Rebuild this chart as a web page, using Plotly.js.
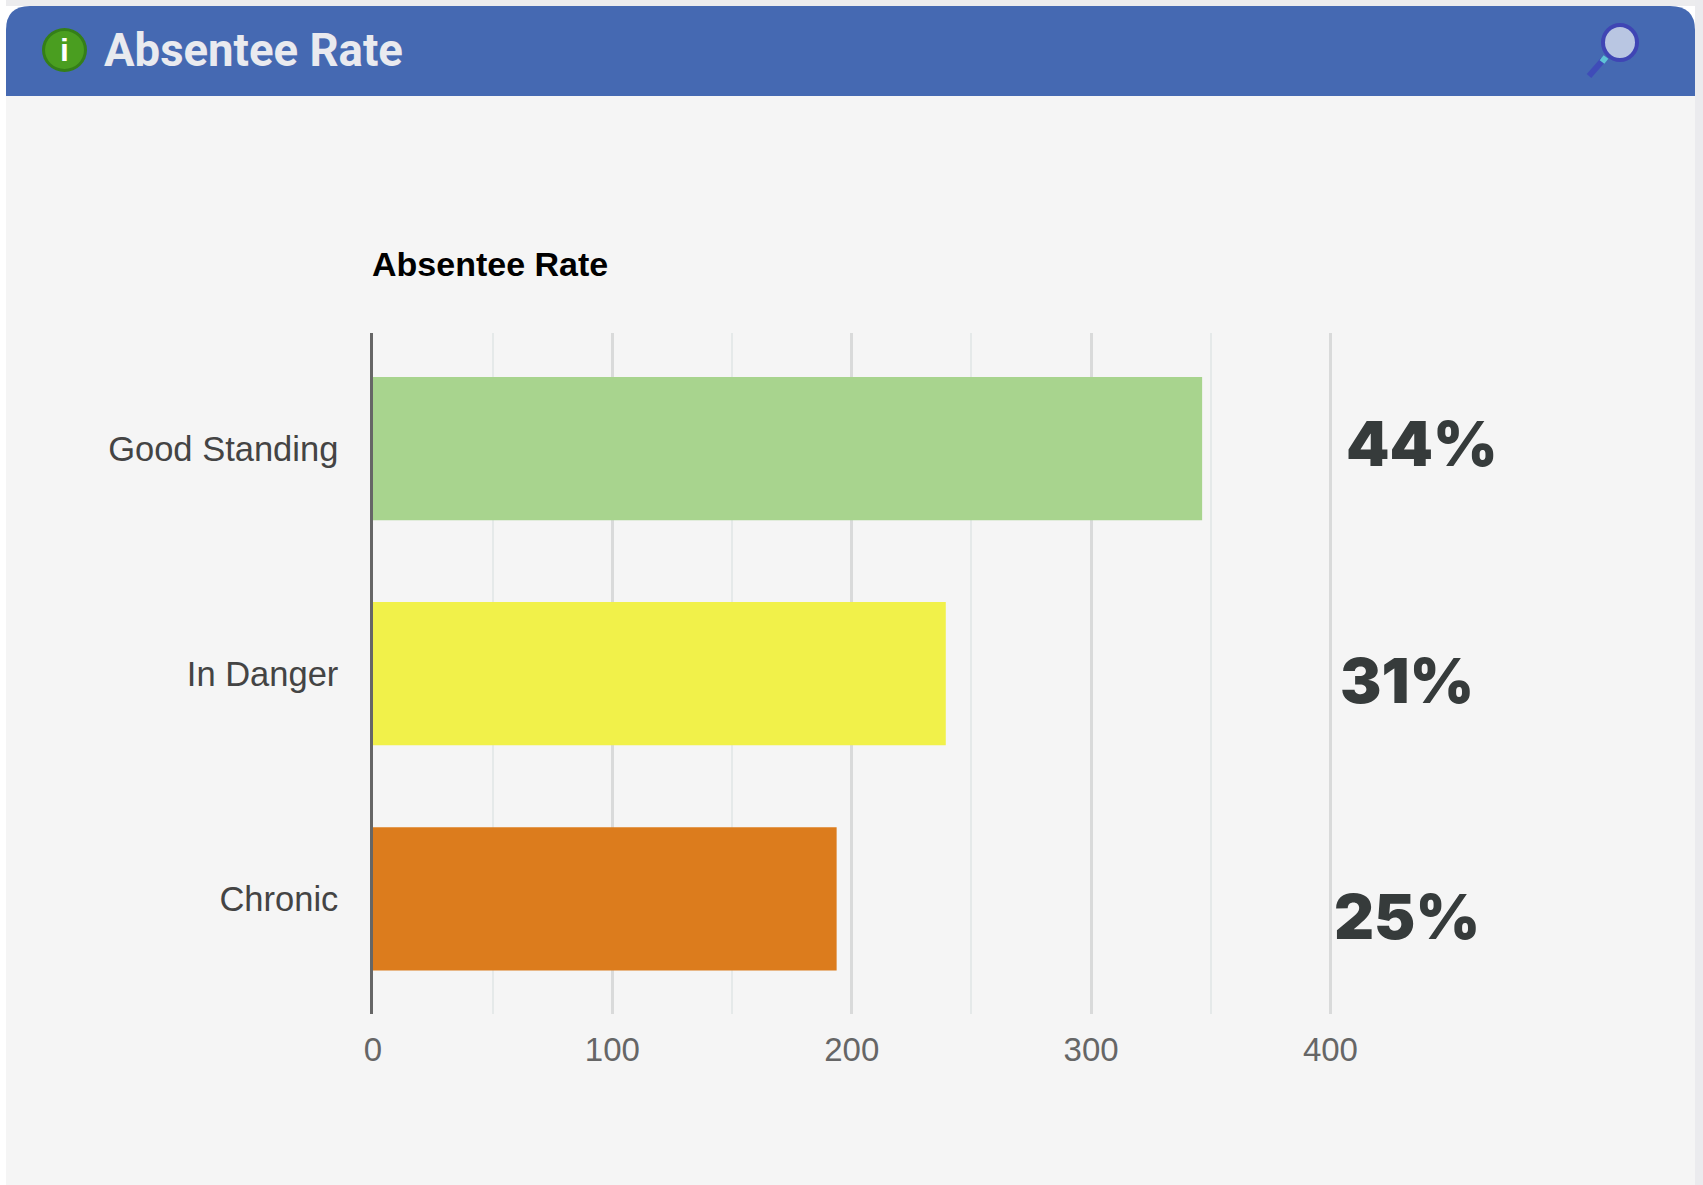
<!DOCTYPE html>
<html>
<head>
<meta charset="utf-8">
<script src="https://cdn.plot.ly/plotly-3.0.1.min.js"></script>
<style>html,body{margin:0;padding:0;background:#fff;overflow:hidden}#chart{width:1703px;height:1185px}</style>
</head>
<body>
<div id="chart"></div>
<script>
const categories = ["Good Standing", "In Danger", "Chronic"];
const values = [346.4, 239.3, 193.7];
const barColors = ["#a8d48e", "#f1f14a", "#dc7c1d"];
const percentLabels = ["44%", "31%", "25%"];
const xTicks = [0, 100, 200, 300, 400];
const chartTitle = "Absentee Rate";
const headerTitle = "Absentee Rate";

const W = 1703, H = 1185;
const m = {l: 373, r: W - 1340, t: 333, b: H - 1014};
const xMax = 404;
const px = x => (x - m.l) / (W - m.l - m.r);
const py = y => 1 - (y - m.t) / (H - m.t - m.b);
const box = (x0, y0, x1, y1, fill, extra) => Object.assign({
  type: "rect", xref: "paper", yref: "paper", x0: px(x0), x1: px(x1), y0: py(y0), y1: py(y1),
  fillcolor: fill, line: {width: 0}, layer: "below"
}, extra || {});
const pathShape = (pts, fill, layer) => ({
  type: "path", xref: "paper", yref: "paper", path: pts, fillcolor: fill, line: {width: 0}, layer: layer || "below"
});
const P = (x, y) => px(x) + "," + py(y);
const headerPath = "M" + P(6, 96) + " L" + P(6, 30) + " Q" + P(6, 6) + " " + P(30, 6) +
  " L" + P(1670, 6) + " Q" + P(1695, 6) + " " + P(1695, 30) + " L" + P(1695, 96) + " Z";

const shapes = [
  box(0, 0, 1703, 1185, "#ffffff"),
  box(6, 0, 1703, 6, "#ececee"),
  box(1695, 0, 1703, 1185, "#ebebee"),
  box(6, 96, 1695, 1185, "#f5f5f5"),
  pathShape(headerPath, "#4569b2"),
  // info icon
  box(42, 28, 87, 72, "#347f18", {type: "circle", layer: "above"}),
  box(45, 31, 84, 69, "#4a9e20", {type: "circle", layer: "above"}),
  // magnifier
  {type: "line", xref: "paper", yref: "paper", x0: px(1589), y0: py(76), x1: px(1603), y1: py(60),
   line: {color: "#3f4cb8", width: 6}, layer: "above"},
  {type: "line", xref: "paper", yref: "paper", x0: px(1602), y0: py(62), x1: px(1606), y1: py(57),
   line: {color: "#5fc4d6", width: 6}, layer: "above"},
  box(1603, 25, 1637, 60, "#b9c6e2", {type: "circle", layer: "above", line: {color: "#3f45b4", width: 4}})
];

const annotations = [
  {xref: "paper", yref: "paper", x: px(102), y: py(50), xanchor: "left", yanchor: "middle", showarrow: false,
   text: "<b>" + headerTitle + "</b>", font: {family: "Roboto", size: 45.5, color: "#e9eaef"}},
  {xref: "paper", yref: "paper", x: px(64.5), y: py(50), xanchor: "center", yanchor: "middle", showarrow: false,
   text: "<b>i</b>", font: {family: "Liberation Sans", size: 32, color: "#ffffff"}}
];
const pctX = [1421.5, 1407, 1407];
const pctY = [443, 680, 916];
percentLabels.forEach((t, i) => annotations.push({
  xref: "paper", yref: "paper", x: px(pctX[i]), y: py(pctY[i]), xanchor: "center", yanchor: "middle", showarrow: false,
  text: t, font: {family: "Inter", size: 62, weight: 900, color: "#363b3b"}
}));

Plotly.newPlot("chart", [{
  type: "bar", orientation: "h", y: categories, x: values,
  marker: {color: barColors, line: {width: 0}},
  hoverinfo: "x+y"
}], {
  width: W, height: H,
  margin: {l: m.l, r: m.r, t: m.t, b: m.b, pad: 0},
  paper_bgcolor: "#ffffff", plot_bgcolor: "rgba(0,0,0,0)",
  showlegend: false, bargap: 0.364,
  title: {text: "<b>" + chartTitle + "</b>", x: 372 / W, xanchor: "left",
          y: 1 - 264.5 / H, yanchor: "middle",
          font: {family: "Liberation Sans", size: 34, color: "#000000"}},
  xaxis: {
    range: [0, xMax], tickmode: "array", tickvals: xTicks, ticktext: xTicks.map(String),
    showgrid: true, gridcolor: "#d9dada", gridwidth: 2.5, zeroline: false, showline: false,
    ticks: "outside", ticklen: 6, tickcolor: "rgba(0,0,0,0)",
    tickfont: {family: "Liberation Sans", size: 33, color: "#666666"},
    minor: {dtick: 50, tick0: 0, showgrid: true, gridcolor: "#e5e9e9", gridwidth: 2, ticks: ""}
  },
  yaxis: {
    type: "category", categoryorder: "array", categoryarray: categories, range: [2.511, -0.513],
    showgrid: false, zeroline: false, showline: true, linecolor: "#666666", linewidth: 2.5,
    ticks: "outside", ticklen: 25, tickcolor: "rgba(0,0,0,0)",
    tickfont: {family: "Liberation Sans", size: 34.5, color: "#444444"}
  },
  shapes: shapes, annotations: annotations
}, {displayModeBar: false, responsive: false});
</script>
</body>
</html>
